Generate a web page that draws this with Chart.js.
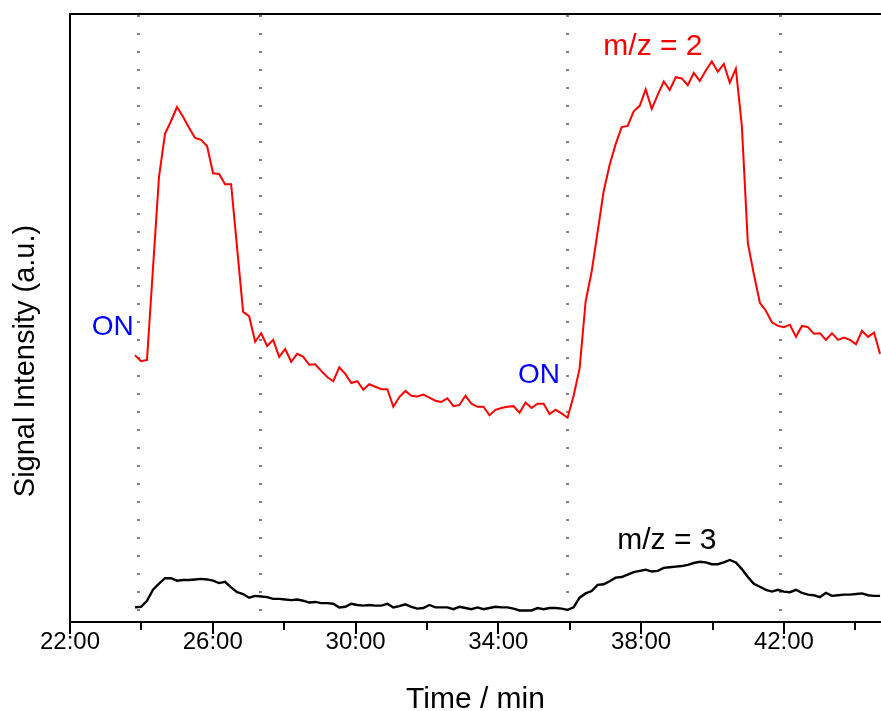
<!DOCTYPE html>
<html>
<head>
<meta charset="utf-8">
<title>Signal intensity vs time</title>
<script src="https://cdn.jsdelivr.net/npm/chart.js@4/dist/chart.umd.min.js"></script>
<style>
  html, body { margin: 0; padding: 0; background: #ffffff; }
  #wrap { width: 881px; height: 711px; }
</style>
</head>
<body>
<div id="wrap"><canvas id="chart" width="881" height="711"></canvas></div>
<script>
// Sampling clock of the mass spectrometer (minutes)
const startMinute = 23.82;
const sampleStepMin = 10.1 / 60;

// m/z = 2 signal (a.u.)
const mz2Signal = [
  43.9, 42.9, 43.1, 58.2, 73.2, 80.3, 82.4, 84.7, 83.1, 81.3,
  79.6, 79.3, 78.3, 73.8, 73.7, 72.0, 72.0, 61.5, 51.0, 50.3,
  46.1, 47.5, 45.4, 46.4, 43.6, 44.9, 42.8, 44.1, 43.6, 42.3,
  42.4, 41.3, 40.3, 39.6, 41.9, 40.8, 39.3, 39.6, 38.2, 39.1,
  38.7, 38.3, 38.3, 35.4, 37.0, 38.0, 37.2, 37.1, 37.4, 36.9,
  36.4, 36.2, 36.8, 35.5, 35.7, 37.2, 35.9, 35.4, 35.4, 34.0,
  34.9, 35.2, 35.4, 35.5, 34.4, 36.1, 35.2, 35.9, 35.9, 34.2,
  34.9, 34.3, 33.6, 37.2, 41.7, 52.7, 57.6, 64.2, 70.8, 75.2,
  78.6, 81.4, 81.6, 84.0, 84.9, 87.6, 84.4, 86.7, 88.9, 87.5,
  89.6, 89.4, 88.3, 90.3, 89.0, 90.7, 92.2, 90.5, 91.8, 88.7,
  91.0, 81.6, 62.3, 57.2, 52.5, 51.2, 49.3, 48.7, 48.5, 48.9,
  46.9, 48.7, 48.5, 47.4, 47.5, 46.4, 47.5, 46.4, 46.8, 46.4,
  45.7, 47.9, 46.9, 47.6, 44.1
];

// m/z = 3 signal (a.u.)
const mz3Signal = [
  2.4, 2.5, 3.5, 5.3, 6.3, 7.2, 7.2, 6.8, 6.9, 6.9,
  7.0, 7.1, 7.0, 6.8, 6.4, 6.6, 5.7, 4.9, 4.6, 4.0,
  4.3, 4.2, 4.1, 3.8, 3.8, 3.7, 3.6, 3.7, 3.5, 3.2,
  3.3, 3.1, 3.1, 3.0, 2.4, 2.5, 3.0, 2.8, 2.7, 2.8,
  2.7, 2.7, 3.0, 2.4, 2.6, 2.9, 2.5, 2.2, 2.3, 2.8,
  2.4, 2.4, 2.4, 2.1, 2.5, 2.3, 2.1, 2.4, 2.1, 2.3,
  2.5, 2.4, 2.4, 2.2, 1.9, 1.9, 1.9, 2.3, 2.1, 2.3,
  2.3, 2.2, 2.0, 2.4, 4.0, 4.7, 5.1, 6.1, 6.2, 6.7,
  7.3, 7.4, 7.8, 8.2, 8.4, 8.6, 8.3, 8.4, 8.9, 9.0,
  9.1, 9.2, 9.4, 9.7, 9.9, 9.8, 9.5, 9.5, 9.8, 10.2,
  9.8, 8.7, 7.4, 6.3, 5.8, 5.3, 5.0, 5.3, 5.0, 4.9,
  5.3, 4.8, 4.5, 4.4, 4.1, 4.8, 4.3, 4.4, 4.5, 4.5,
  4.6, 4.7, 4.4, 4.3, 4.3
];

// Axis ticks (minutes)
const xTickMinutes = [22, 26, 30, 34, 38, 42];
const xMinorMinutes = [24, 28, 32, 36, 40, 44];

// Times at which the gas was switched (dotted markers)
const switchMinutes = [23.91, 27.33, 35.93, 41.89];

// Text labels placed in data coordinates
const noteTexts = ['ON', 'ON', 'm/z = 2', 'm/z = 3'];
const noteMinutes = [23.2, 35.14, 38.33, 38.72];
const noteLevels = [48.5, 40.5, 94.6, 13.4];
const noteColors = ['#0000ff', '#0000ff', '#ff0000', '#000000'];
const noteSizes = [28, 28, 30, 30];

const FONT = '"Liberation Sans", Arial, Helvetica, sans-serif';
const Y_TITLE = 'Signal Intensity (a.u.)';

const toPoints = (vals) => vals.map((v, i) => ({ x: startMinute + i * sampleStepMin, y: v }));

const framePlugin = {
  id: 'frame',
  beforeDatasetsDraw(chart) {
    const { ctx, chartArea, scales } = chart;
    ctx.save();
    ctx.strokeStyle = '#808080';
    ctx.lineWidth = 3;
    ctx.setLineDash([2, 16]);
    switchMinutes.forEach((m) => {
      const px = Math.round(scales.x.getPixelForValue(m)) + 0.5;
      ctx.beginPath();
      ctx.moveTo(px, chartArea.top + 1);
      ctx.lineTo(px, chartArea.bottom + 2);
      ctx.stroke();
    });
    ctx.restore();
  },
  afterDatasetsDraw(chart) {
    const { ctx, chartArea, scales } = chart;
    const { left, right, top, bottom } = chartArea;
    ctx.save();
    ctx.strokeStyle = '#000000';
    ctx.lineWidth = 2;
    ctx.setLineDash([]);
    ctx.beginPath();
    ctx.moveTo(left, top - 1);
    ctx.lineTo(left, bottom + 1);
    ctx.moveTo(left - 1, bottom);
    ctx.lineTo(right + 1, bottom);
    ctx.moveTo(left - 1, top);
    ctx.lineTo(right + 1, top);
    xTickMinutes.forEach((m) => {
      const px = Math.round(scales.x.getPixelForValue(m));
      ctx.moveTo(px, bottom);
      ctx.lineTo(px, bottom + 12);
    });
    xMinorMinutes.forEach((m) => {
      const px = Math.round(scales.x.getPixelForValue(m));
      ctx.moveTo(px, bottom);
      ctx.lineTo(px, bottom + 8);
    });
    ctx.stroke();

    ctx.textAlign = 'center';
    ctx.textBaseline = 'middle';
    noteTexts.forEach((t, i) => {
      ctx.font = noteSizes[i] + 'px ' + FONT;
      ctx.fillStyle = noteColors[i];
      ctx.fillText(t, scales.x.getPixelForValue(noteMinutes[i]), scales.y.getPixelForValue(noteLevels[i]));
    });

    // vertical axis title
    ctx.fillStyle = '#000000';
    ctx.font = '29px ' + FONT;
    ctx.translate(26, 361);
    ctx.rotate(-Math.PI / 2);
    ctx.fillText(Y_TITLE, 0, 0);
    ctx.restore();
  }
};

new Chart(document.getElementById('chart'), {
  type: 'line',
  data: {
    datasets: [
      {
        label: 'm/z = 2',
        data: toPoints(mz2Signal),
        borderColor: '#ff0000',
        borderWidth: 2,
        pointRadius: 0,
        tension: 0,
        fill: false
      },
      {
        label: 'm/z = 3',
        data: toPoints(mz3Signal),
        borderColor: '#000000',
        borderWidth: 2.4,
        pointRadius: 0,
        tension: 0,
        fill: false
      }
    ]
  },
  options: {
    responsive: false,
    animation: false,
    devicePixelRatio: 1,
    layout: { padding: { top: 14, right: 0, bottom: 0, left: 0 } },
    plugins: {
      legend: { display: false },
      tooltip: { enabled: false }
    },
    scales: {
      x: {
        type: 'linear',
        min: 22,
        max: 44.72,
        afterBuildTicks: (scale) => { scale.ticks = xTickMinutes.map((v) => ({ value: v })); },
        afterFit: (scale) => { scale.height = 89; },
        grid: { display: false, drawTicks: false },
        border: { display: false },
        ticks: {
          autoSkip: false,
          maxRotation: 0,
          padding: 6,
          color: '#000000',
          font: { family: FONT, size: 24 },
          callback: (v) => v + ':00'
        },
        title: {
          display: true,
          text: 'Time / min',
          color: '#000000',
          font: { family: FONT, size: 30, lineHeight: 0.6 },
          padding: { top: 0, bottom: 2 }
        }
      },
      y: {
        min: 0,
        max: 100,
        afterFit: (scale) => { scale.width = 70; },
        grid: { display: false, drawTicks: false },
        border: { display: false },
        ticks: { display: false },
        title: { display: false }
      }
    }
  },
  plugins: [framePlugin]
});
</script>
</body>
</html>
